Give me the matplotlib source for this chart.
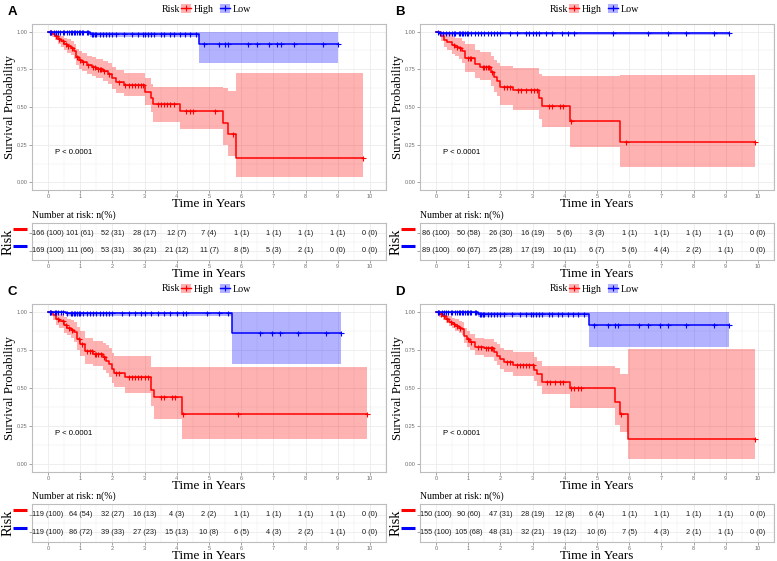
import numpy as np
import matplotlib.pyplot as plt
from matplotlib.lines import Line2D
from matplotlib.patches import Patch
from matplotlib.transforms import blended_transform_factory

SERIF = 'Liberation Serif'
SANS = 'Liberation Sans'

years = [0, 1, 2, 3, 4, 5, 6, 7, 8, 9, 10]

# ---------------- panel A ----------------
a_high_t = [0, 0.12, 0.2, 0.3, 0.4, 0.5, 0.6, 0.7, 0.8, 0.88, 0.95, 1.05, 1.2, 1.35, 1.5, 1.7, 1.85, 2.0, 2.1, 2.35, 3.0, 3.2, 3.27, 4.1, 5.45, 5.6, 5.85]
a_high_s = [1.0, 0.985, 0.97, 0.95, 0.935, 0.92, 0.905, 0.89, 0.87, 0.83, 0.81, 0.795, 0.775, 0.765, 0.755, 0.74, 0.72, 0.69, 0.665, 0.645, 0.60, 0.56, 0.52, 0.475, 0.395, 0.32, 0.16]
a_high_lo = [1.0, 0.965, 0.945, 0.92, 0.90, 0.88, 0.86, 0.845, 0.82, 0.78, 0.755, 0.74, 0.72, 0.705, 0.695, 0.675, 0.655, 0.62, 0.595, 0.57, 0.51, 0.47, 0.40, 0.353, 0.246, 0.175, 0.035]
a_high_hi = [1.0, 1.0, 0.99, 0.98, 0.97, 0.96, 0.95, 0.935, 0.92, 0.885, 0.87, 0.855, 0.84, 0.83, 0.82, 0.805, 0.79, 0.765, 0.745, 0.725, 0.69, 0.655, 0.632, 0.632, 0.625, 0.603, 0.725]
a_high_end = 9.8
a_high_cens = [0.05, 0.1, 0.25, 0.35, 0.45, 0.55, 0.62, 0.75, 0.9, 1.0, 1.1, 1.25, 1.4, 1.45, 1.55, 1.6, 1.65, 1.75, 1.9, 2.2, 2.4, 2.5, 2.6, 2.7, 2.8, 2.9, 2.95, 3.4, 3.5, 3.6, 3.7, 3.8, 3.9, 4.3, 4.4, 4.5, 5.2, 5.75, 9.8]
a_low_t = [0, 1.3, 4.7]
a_low_s = [1.0, 0.985, 0.915]
a_low_lo = [1.0, 0.965, 0.79]
a_low_hi = [1.0, 1.0, 1.0]
a_low_end = 9.0
a_low_cens = [0.05, 0.1, 0.18, 0.25, 0.3, 0.38, 0.45, 0.5, 0.6, 0.65, 0.7, 0.75, 0.8, 0.85, 0.9, 0.95, 1.0, 1.05, 1.1, 1.2, 1.25, 1.35, 1.4, 1.45, 1.5, 1.6, 1.7, 1.8, 1.9, 2.0, 2.1, 2.35, 2.6, 2.8, 2.95, 3.0, 3.1, 3.2, 3.3, 3.5, 3.6, 3.8, 3.9, 4.1, 4.25, 4.4, 4.6, 4.85, 5.3, 5.5, 5.6, 6.2, 6.5, 6.85, 7.1, 7.25, 7.65, 8.55, 9.0]
a_high_n = [166, 101, 52, 28, 12, 7, 1, 1, 1, 1, 0]
a_high_pct = [100, 61, 31, 17, 7, 4, 1, 1, 1, 1, 0]
a_low_n = [169, 111, 53, 36, 21, 11, 8, 5, 2, 0, 0]
a_low_pct = [100, 66, 31, 21, 12, 7, 5, 3, 1, 0, 0]

# ---------------- panel B ----------------
b_high_t = [0, 0.15, 0.25, 0.35, 0.5, 0.6, 0.7, 0.8, 0.9, 1.2, 1.35, 1.7, 1.8, 1.9, 2.0, 2.4, 3.2, 3.3, 4.15, 5.7]
b_high_s = [1.0, 0.97, 0.945, 0.93, 0.91, 0.90, 0.89, 0.87, 0.825, 0.785, 0.765, 0.735, 0.70, 0.67, 0.635, 0.61, 0.56, 0.508, 0.406, 0.27]
b_high_lo = [1.0, 0.94, 0.90, 0.875, 0.85, 0.835, 0.82, 0.79, 0.73, 0.69, 0.68, 0.64, 0.60, 0.57, 0.515, 0.48, 0.42, 0.365, 0.237, 0.104]
b_high_hi = [1.0, 1.0, 0.99, 0.985, 0.97, 0.96, 0.955, 0.94, 0.92, 0.875, 0.865, 0.835, 0.81, 0.79, 0.775, 0.758, 0.72, 0.707, 0.703, 0.71]
b_high_end = 9.9
b_high_cens = [0.55, 0.65, 0.75, 1.0, 1.05, 1.1, 1.45, 1.5, 1.55, 1.6, 1.65, 1.75, 2.1, 2.2, 2.3, 2.55, 2.65, 2.8, 2.95, 3.05, 3.15, 3.5, 3.6, 3.85, 3.95, 4.2, 5.9, 9.9]
b_low_t = [0, 0.1]
b_low_s = [1.0, 0.993]
b_low_lo = [1.0, 0.975]
b_low_hi = [1.0, 1.0]
b_low_end = 9.1
b_low_cens = [0.05, 0.12, 0.2, 0.3, 0.4, 0.5, 0.55, 0.6, 0.7, 0.75, 0.8, 0.85, 0.9, 0.95, 1.0, 1.1, 1.2, 1.3, 1.4, 1.5, 1.6, 1.7, 1.8, 1.9, 2.0, 2.3, 2.5, 2.8, 2.9, 3.0, 3.1, 3.2, 3.4, 3.6, 3.9, 4.1, 4.3, 5.5, 6.6, 7.2, 7.75, 8.65, 9.1]
b_high_n = [86, 50, 26, 16, 5, 3, 1, 1, 1, 1, 0]
b_high_pct = [100, 58, 30, 19, 6, 3, 1, 1, 1, 1, 0]
b_low_n = [89, 60, 25, 17, 10, 6, 5, 4, 2, 1, 0]
b_low_pct = [100, 67, 28, 19, 11, 7, 6, 4, 2, 1, 0]

# ---------------- panel C ----------------
c_high_t = [0, 0.15, 0.25, 0.35, 0.5, 0.6, 0.7, 0.8, 0.9, 1.0, 1.15, 1.4, 1.7, 1.8, 1.9, 2.0, 2.05, 2.4, 3.2, 3.3, 4.15]
c_high_s = [1.0, 0.975, 0.955, 0.94, 0.91, 0.895, 0.88, 0.865, 0.823, 0.79, 0.74, 0.72, 0.70, 0.68, 0.655, 0.625, 0.60, 0.575, 0.49, 0.44, 0.33]
c_high_lo = [1.0, 0.945, 0.915, 0.895, 0.86, 0.845, 0.825, 0.80, 0.75, 0.71, 0.66, 0.645, 0.62, 0.60, 0.57, 0.535, 0.505, 0.465, 0.38, 0.30, 0.164]
c_high_hi = [1.0, 1.0, 0.99, 0.985, 0.965, 0.955, 0.945, 0.935, 0.90, 0.875, 0.83, 0.81, 0.795, 0.78, 0.76, 0.73, 0.71, 0.708, 0.64, 0.635, 0.64]
c_high_end = 9.9
c_high_cens = [0.05, 0.3, 0.45, 0.55, 0.65, 0.75, 0.95, 1.05, 1.2, 1.3, 1.35, 1.45, 1.5, 1.55, 1.65, 1.75, 2.1, 2.2, 2.5, 2.6, 2.7, 2.8, 2.9, 3.0, 3.1, 3.5, 3.6, 3.85, 3.95, 4.2, 5.9, 9.9]
c_low_t = [0, 0.55, 5.7]
c_low_s = [1.0, 0.99, 0.86]
c_low_lo = [1.0, 0.97, 0.655]
c_low_hi = [1.0, 1.0, 1.0]
c_low_end = 9.1
c_low_cens = [0.05, 0.1, 0.2, 0.25, 0.3, 0.4, 0.45, 0.6, 0.7, 0.75, 0.8, 0.85, 0.9, 0.95, 1.0, 1.1, 1.2, 1.3, 1.4, 1.5, 1.6, 1.7, 1.8, 1.9, 2.0, 2.3, 2.5, 2.7, 2.9, 3.0, 3.2, 3.4, 3.6, 3.8, 4.0, 4.2, 4.3, 4.95, 5.3, 5.6, 6.6, 6.95, 7.2, 7.75, 8.65, 9.1]
c_high_n = [119, 64, 32, 16, 4, 2, 1, 1, 1, 1, 0]
c_high_pct = [100, 54, 27, 13, 3, 2, 1, 1, 1, 1, 0]
c_low_n = [119, 86, 39, 27, 15, 10, 6, 4, 2, 1, 0]
c_low_pct = [100, 72, 33, 23, 13, 8, 5, 3, 2, 1, 0]

# ---------------- panel D ----------------
d_high_t = [0, 0.1, 0.2, 0.3, 0.4, 0.5, 0.6, 0.7, 0.8, 0.88, 0.95, 1.05, 1.2, 1.5, 1.8, 1.9, 2.0, 2.1, 2.4, 3.05, 3.15, 3.3, 4.15, 5.55, 5.7, 5.95]
d_high_s = [1.0, 0.985, 0.97, 0.95, 0.935, 0.92, 0.905, 0.895, 0.885, 0.84, 0.82, 0.80, 0.77, 0.76, 0.734, 0.71, 0.69, 0.67, 0.65, 0.62, 0.59, 0.54, 0.50, 0.41, 0.33, 0.166]
d_high_lo = [1.0, 0.965, 0.945, 0.925, 0.905, 0.89, 0.87, 0.86, 0.845, 0.795, 0.77, 0.75, 0.715, 0.705, 0.675, 0.65, 0.625, 0.605, 0.58, 0.545, 0.515, 0.46, 0.37, 0.26, 0.21, 0.035]
d_high_hi = [1.0, 1.0, 0.99, 0.98, 0.97, 0.96, 0.95, 0.94, 0.93, 0.89, 0.87, 0.855, 0.83, 0.82, 0.80, 0.785, 0.765, 0.75, 0.735, 0.705, 0.68, 0.645, 0.645, 0.63, 0.59, 0.755]
d_high_end = 9.9
d_high_cens = [0.05, 0.15, 0.25, 0.35, 0.45, 0.55, 0.65, 0.75, 1.0, 1.1, 1.3, 1.4, 1.55, 1.6, 1.7, 1.75, 2.2, 2.3, 2.5, 2.6, 2.7, 2.8, 2.9, 3.0, 3.45, 3.55, 3.7, 3.85, 3.95, 4.2, 4.3, 4.4, 4.5, 5.75, 9.9]
d_low_t = [0, 1.3, 4.75]
d_low_s = [1.0, 0.985, 0.91]
d_low_lo = [1.0, 0.965, 0.77]
d_low_hi = [1.0, 1.0, 1.0]
d_low_end = 9.1
d_low_cens = [0.05, 0.1, 0.18, 0.25, 0.3, 0.38, 0.45, 0.5, 0.6, 0.65, 0.7, 0.75, 0.8, 0.85, 0.9, 0.95, 1.0, 1.05, 1.1, 1.2, 1.25, 1.35, 1.4, 1.45, 1.5, 1.6, 1.7, 1.8, 1.9, 2.0, 2.1, 2.35, 2.6, 2.8, 2.95, 3.0, 3.1, 3.2, 3.3, 3.5, 3.6, 3.8, 3.9, 4.1, 4.25, 4.4, 4.6, 4.9, 5.35, 5.55, 5.65, 6.3, 6.6, 6.95, 7.2, 7.75, 8.65, 9.1]
d_high_n = [150, 90, 47, 28, 12, 6, 1, 1, 1, 1, 0]
d_high_pct = [100, 60, 31, 19, 8, 4, 1, 1, 1, 1, 0]
d_low_n = [155, 105, 48, 32, 19, 10, 7, 4, 2, 1, 0]
d_low_pct = [100, 68, 31, 21, 12, 6, 5, 3, 1, 1, 0]

RED = '#FF0000'
BLUE = '#0000FF'
GRID = '#EBEBEB'
BORDER = '#BDBDBD'
W, H = 777, 561


def px_axes(fig, left, top, w, h):
    return fig.add_axes([left / W, 1 - (top + h) / H, w / W, h / H])


def style_axes(ax):
    ax.set_facecolor('white')
    for sp in ax.spines.values():
        sp.set_color(BORDER)
        sp.set_linewidth(0.8)
    ax.tick_params(length=2, width=0.5, color='#7F7F7F', labelsize=4,
                   labelcolor='#6E6E6E', pad=1.0)
    ax.grid(True, which='major', color=GRID, lw=0.6)
    ax.grid(True, which='minor', color=GRID, lw=0.35)
    ax.set_axisbelow(True)
    for lab in ax.get_xticklabels() + ax.get_yticklabels():
        lab.set_family(SANS)


def draw_curve(ax, t, s, lo, hi, end, cens, color):
    ts = list(t) + [end]
    ax.fill_between(ts, list(lo) + [lo[-1]], list(hi) + [hi[-1]],
                    step='post', color=color, alpha=0.3, lw=0)
    ax.step(ts, list(s) + [s[-1]], where='post', color=color, lw=1.1)
    idx = np.searchsorted(t, cens, side='right') - 1
    ax.plot(cens, np.array(s)[idx], ls='none', marker='+', ms=3.6, mew=0.8,
            color=color)


def draw_panel(fig, letter, left, top, h_main, top_tab, h_tab, high, low,
               high_n, high_pct, low_n, low_pct):
    ax = px_axes(fig, left, top, 354, h_main)
    draw_curve(ax, *high, RED)
    draw_curve(ax, *low, BLUE)
    ax.set_xlim(-0.48, 10.43)
    ax.set_ylim(-0.05, 1.05)
    ax.set_xticks(years)
    ax.set_xticks(np.arange(-0.5, 10.6, 1.0), minor=True)
    ax.set_yticks([0, 0.25, 0.5, 0.75, 1.0])
    ax.set_yticklabels(['0.00', '0.25', '0.50', '0.75', '1.00'])
    ax.set_yticks([0.125, 0.375, 0.625, 0.875], minor=True)
    ax.tick_params(which='minor', length=0)
    style_axes(ax)
    ax.text(0.2, 0.2, 'P < 0.0001', family=SANS, fontsize=5.6, va='center')
    ax.text(0.5, -14 / h_main, 'Time in Years', transform=ax.transAxes,
            ha='center', va='center', family=SERIF, fontsize=9.5)
    ax.text(-0.062, 0.5, 'Survival Probability', transform=ax.transAxes,
            rotation=90, ha='center', va='center', family=SERIF, fontsize=9.3)

    # legend above the plot
    ax.text(0.42, 1.09, 'Risk', transform=ax.transAxes, ha='right',
            va='center', family=SERIF, fontsize=7.2)
    handles = [(Patch(facecolor=RED, alpha=0.3, lw=0),
                Line2D([], [], color=RED, lw=1.0, marker='+', ms=4, mew=0.8)),
               (Patch(facecolor=BLUE, alpha=0.3, lw=0),
                Line2D([], [], color=BLUE, lw=1.0, marker='+', ms=4, mew=0.8))]
    ax.legend(handles, ['High', 'Low'], loc='center left',
              bbox_to_anchor=(0.422, 1.09), ncol=2, frameon=False,
              prop={'family': SERIF, 'size': 7.2}, handlelength=1.0,
              handleheight=1.0, handletextpad=0.25, columnspacing=0.6,
              borderpad=0, borderaxespad=0)

    fig.text((left - 20) / W, 1 - (top - 12) / H, letter, family=SANS,
             fontsize=9.5, fontweight='bold', ha='center', va='center')

    # number-at-risk table
    tb = px_axes(fig, left, top_tab, 354, h_tab)
    tb.set_xlim(-0.48, 10.43)
    tb.set_ylim(0.46, 2.59)
    tb.set_xticks(years)
    tb.set_xticks(np.arange(-0.5, 10.6, 1.0), minor=True)
    tb.set_yticks([1, 2])
    tb.set_yticklabels(['', ''])
    tb.set_yticks([1.5], minor=True)
    tb.tick_params(axis='y', length=0)
    tb.tick_params(which='minor', length=0)
    style_axes(tb)
    for i in range(len(years)):
        tb.text(years[i], 2, f'{high_n[i]} ({high_pct[i]})', ha='center',
                va='center', family=SANS, fontsize=5.3, color='#1A1A1A')
        tb.text(years[i], 1, f'{low_n[i]} ({low_pct[i]})', ha='center',
                va='center', family=SANS, fontsize=5.3, color='#1A1A1A')
    tr = blended_transform_factory(tb.transAxes, tb.transData)
    tb.plot([-0.054, -0.014], [2.25, 2.25], color=RED, lw=2.2,
            transform=tr, clip_on=False, solid_capstyle='butt')
    tb.plot([-0.054, -0.014], [1.25, 1.25], color=BLUE, lw=2.2,
            transform=tr, clip_on=False, solid_capstyle='butt')
    tb.text(-0.068, 0.5, 'Risk', transform=tb.transAxes, rotation=90,
            ha='center', va='center', family=SERIF, fontsize=10.5)
    tb.text(0.0, 1.08, 'Number at risk: n(%)', transform=tb.transAxes,
            ha='left', va='bottom', family=SERIF, fontsize=7)
    tb.text(0.5, -14 / h_tab, 'Time in Years', transform=tb.transAxes,
            ha='center', va='center', family=SERIF, fontsize=9.5)


fig = plt.figure(figsize=(W / 100, H / 100), dpi=100)

draw_panel(fig, 'A', 32, 24, 166, 223, 37,
           (a_high_t, a_high_s, a_high_lo, a_high_hi, a_high_end, a_high_cens),
           (a_low_t, a_low_s, a_low_lo, a_low_hi, a_low_end, a_low_cens),
           a_high_n, a_high_pct, a_low_n, a_low_pct)
draw_panel(fig, 'B', 420, 24, 166, 223, 37,
           (b_high_t, b_high_s, b_high_lo, b_high_hi, b_high_end, b_high_cens),
           (b_low_t, b_low_s, b_low_lo, b_low_hi, b_low_end, b_low_cens),
           b_high_n, b_high_pct, b_low_n, b_low_pct)
draw_panel(fig, 'C', 32, 304, 168, 504, 38,
           (c_high_t, c_high_s, c_high_lo, c_high_hi, c_high_end, c_high_cens),
           (c_low_t, c_low_s, c_low_lo, c_low_hi, c_low_end, c_low_cens),
           c_high_n, c_high_pct, c_low_n, c_low_pct)
draw_panel(fig, 'D', 420, 304, 168, 504, 38,
           (d_high_t, d_high_s, d_high_lo, d_high_hi, d_high_end, d_high_cens),
           (d_low_t, d_low_s, d_low_lo, d_low_hi, d_low_end, d_low_cens),
           d_high_n, d_high_pct, d_low_n, d_low_pct)

fig.savefig('out.png', dpi=100)
